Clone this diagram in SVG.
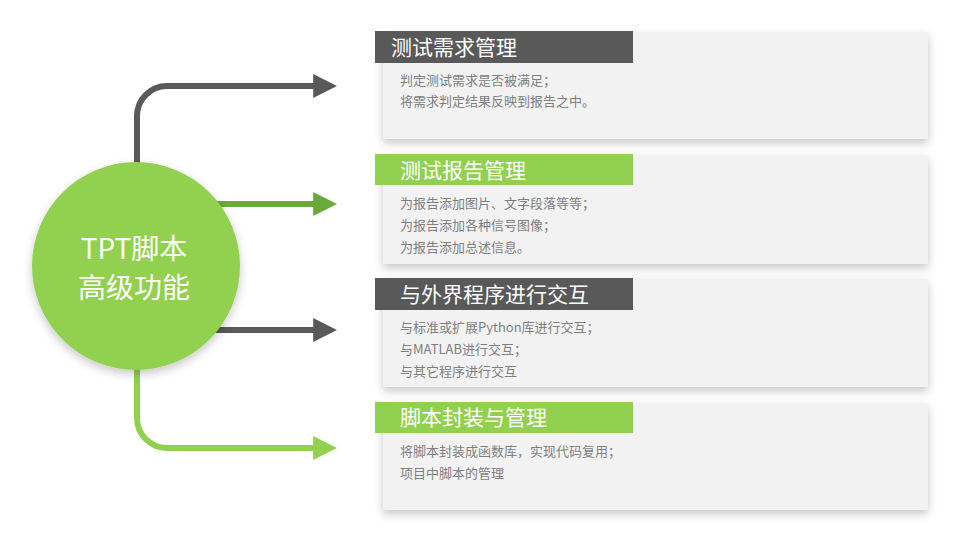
<svg xmlns="http://www.w3.org/2000/svg" width="961" height="548" viewBox="0 0 961 548">
<style>
.card{fill:#f2f2f2;filter:url(#sh)}
.hd{font-family:"Noto Sans CJK SC",sans-serif;font-size:21px;fill:#fff}
.bd{font-family:"Noto Sans CJK SC",sans-serif;font-size:13px;fill:#7f7f7f}
.ln{fill:none;stroke-width:6}
</style>
<defs>
<filter id="sh" x="-10%" y="-20%" width="120%" height="150%"><feDropShadow dx="0" dy="4" stdDeviation="5" flood-color="#000" flood-opacity="0.22"/></filter>
<marker id="ad" viewBox="0 0 10 10" refX="2" refY="5" markerWidth="4" markerHeight="4" orient="auto" markerUnits="strokeWidth"><path d="M0,0L10,5L0,10z" fill="#595959"/></marker>
<marker id="ag" viewBox="0 0 10 10" refX="2" refY="5" markerWidth="4" markerHeight="4" orient="auto" markerUnits="strokeWidth"><path d="M0,0L10,5L0,10z" fill="#6aaa3a"/></marker>
<marker id="al" viewBox="0 0 10 10" refX="2" refY="5" markerWidth="4" markerHeight="4" orient="auto" markerUnits="strokeWidth"><path d="M0,0L10,5L0,10z" fill="#92d050"/></marker>
</defs>
<g id="connectors">
<path class="ln" stroke="#595959" d="M137,170V116A30,30 0 0 1 167,86H318" marker-end="url(#ad)"/>
<path class="ln" stroke="#6aaa3a" d="M200,204H318" marker-end="url(#ag)"/>
<path class="ln" stroke="#595959" d="M200,330H318" marker-end="url(#ad)"/>
<path class="ln" stroke="#92d050" d="M137,360V418A30,30 0 0 0 167,448H318" marker-end="url(#al)"/>
</g>
<g id="center">
<circle cx="136" cy="266" r="104" fill="#92d050" filter="url(#sh)"/>
<text x="134" y="259" text-anchor="middle" font-family="'Noto Sans CJK SC',sans-serif" font-size="28" fill="#fff">TPT脚本</text>
<text x="134" y="298" text-anchor="middle" font-family="'Noto Sans CJK SC',sans-serif" font-size="28" fill="#fff">高级功能</text>
</g>
<g id="n1">
<rect class="card" x="383" y="32" width="545" height="107"/>
<rect x="375" y="31" width="258" height="32" fill="#595959"/>
<text class="hd" x="391" y="55">测试需求管理</text>
<text class="bd" x="400" y="85">判定测试需求是否被满足；</text>
<text class="bd" x="400" y="106">将需求判定结果反映到报告之中。</text>
</g>
<g id="n2">
<rect class="card" x="383" y="155" width="545" height="109"/>
<rect x="375" y="154" width="258" height="31" fill="#92d050"/>
<text class="hd" x="400" y="178">测试报告管理</text>
<text class="bd" x="400" y="208">为报告添加图片、文字段落等等；</text>
<text class="bd" x="400" y="230">为报告添加各种信号图像；</text>
<text class="bd" x="400" y="252">为报告添加总述信息。</text>
</g>
<g id="n3">
<rect class="card" x="383" y="279" width="545" height="108"/>
<rect x="375" y="278" width="258" height="32" fill="#595959"/>
<text class="hd" x="400" y="302">与外界程序进行交互</text>
<text class="bd" x="400" y="332">与标准或扩展Python库进行交互；</text>
<text class="bd" x="400" y="354">与MATLAB进行交互；</text>
<text class="bd" x="400" y="376">与其它程序进行交互</text>
</g>
<g id="n4">
<rect class="card" x="383" y="403" width="545" height="107"/>
<rect x="375" y="402" width="258" height="31" fill="#92d050"/>
<text class="hd" x="400" y="425">脚本封装与管理</text>
<text class="bd" x="400" y="456">将脚本封装成函数库，实现代码复用；</text>
<text class="bd" x="400" y="478">项目中脚本的管理</text>
</g>
</svg>
